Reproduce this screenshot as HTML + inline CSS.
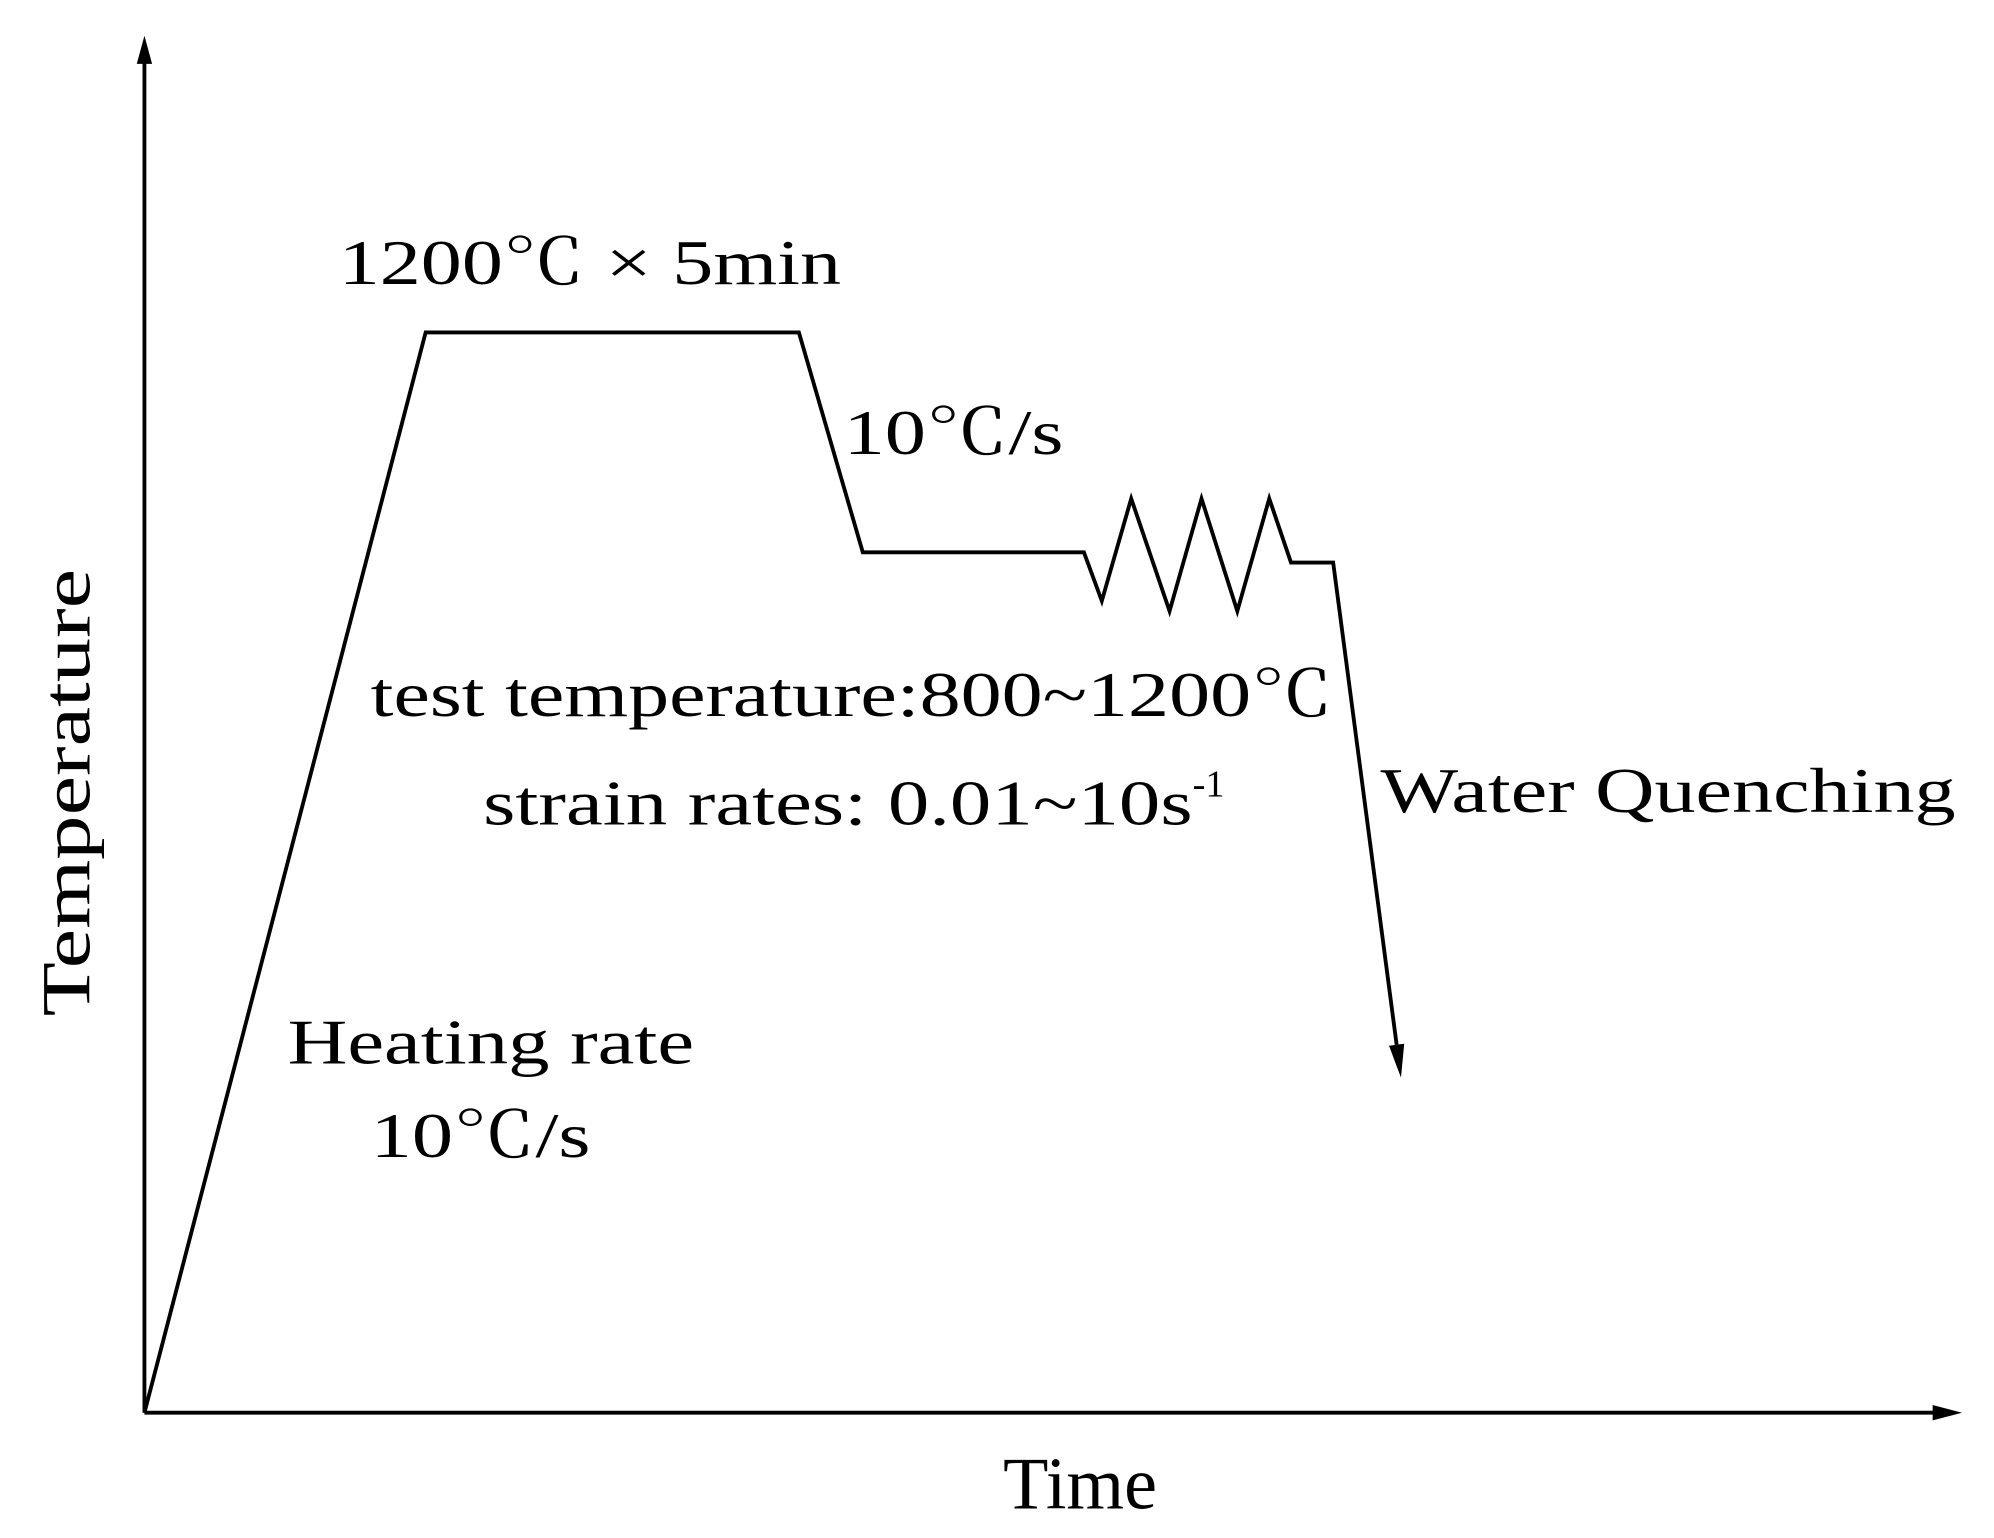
<!DOCTYPE html>
<html><head><meta charset="utf-8"><style>
html,body{margin:0;padding:0;background:#fff;}
svg{display:block;}
text{font-family:"Liberation Serif","Noto Serif CJK SC",serif;fill:#000;}
</style></head><body>
<svg id="chart" width="1994" height="1538" viewBox="0 0 1560 1203" preserveAspectRatio="none" xmlns="http://www.w3.org/2000/svg">
<g>
<line x1="113" y1="1105" x2="113" y2="45" stroke="#000" stroke-width="3"/>
<polygon points="113,28 107,50 119,50" fill="#000"/>
</g>
<g>
<line x1="113" y1="1105" x2="1515" y2="1105" stroke="#000" stroke-width="3"/>
<polygon points="1535,1105 1512,1099 1512,1111" fill="#000"/>
</g>
<text transform="translate(70,620) rotate(-90)" text-anchor="middle" font-size="54" textLength="350" lengthAdjust="spacingAndGlyphs">Temperature</text>
<text x="845" y="1180" text-anchor="middle" font-size="58">Time</text>
<text x="265" y="222" font-size="50" textLength="393" lengthAdjust="spacingAndGlyphs">1200℃ × 5min</text>
<text x="660" y="355" font-size="50" textLength="172" lengthAdjust="spacingAndGlyphs">10℃/s</text>
<text x="290" y="560" font-size="50" textLength="753" lengthAdjust="spacingAndGlyphs">test temperature:800~1200℃</text>
<text x="378" y="645" font-size="50"><tspan textLength="555" lengthAdjust="spacingAndGlyphs">strain rates: 0.01~10s</tspan><tspan font-size="30" dy="-22">-1</tspan></text>
<text x="1080" y="635" font-size="50" textLength="450" lengthAdjust="spacingAndGlyphs">Water Quenching</text>
<text x="225" y="832" font-size="50" textLength="318" lengthAdjust="spacingAndGlyphs">Heating rate</text>
<text x="290" y="905" font-size="50" textLength="172" lengthAdjust="spacingAndGlyphs">10℃/s</text>
<polyline id="process" fill="none" stroke="#000" stroke-width="3" stroke-linejoin="miter"/>
<polygon id="qarrow" fill="#000"/>
</svg>
<script>
const timeVals = [0, 220, 512, 562, 735, 749, 772, 802, 827, 855, 880, 897, 930, 982];
const tempVals = [0, 845, 845, 673, 673, 635, 715, 627, 715, 627, 715, 665, 665, 270];
const x0 = 113, y0 = 1105;
function xs(t){ return x0 + t; }
function ys(v){ return y0 - v; }
const pts = timeVals.map((t,i)=>[xs(t), ys(tempVals[i])]);
const n = pts.length;
const [ax,ay] = pts[n-1], [bx,by] = pts[n-2];
const dx = ax-bx, dy = ay-by, L = Math.hypot(dx,dy), ux = dx/L, uy = dy/L;
const tip = [ax+ux*8, ay+uy*8];
const base = [tip[0]-ux*26, tip[1]-uy*26];
const line = pts.slice(0,n-1).concat([base]);
document.getElementById('process').setAttribute('points', line.map(p=>p.join(',')).join(' '));
document.getElementById('qarrow').setAttribute('points',
  [tip, [base[0]-uy*6, base[1]+ux*6], [base[0]+uy*6, base[1]-ux*6]].map(p=>p.join(',')).join(' '));
</script>
</body></html>
